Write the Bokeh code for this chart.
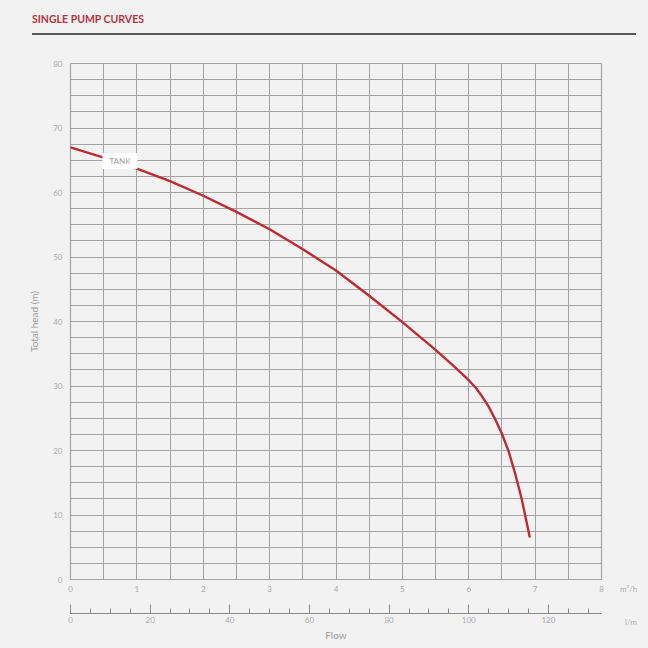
from bokeh.plotting import figure
from bokeh.models import (Range1d, LinearAxis, SingleIntervalTicker, FixedTicker, Label, ColumnDataSource, Div)
from bokeh.layouts import column, row
from bokeh.embed import file_html
from bokeh.resources import INLINE

# ---- data ----
flow_m3h = [0, 0.5, 1, 1.5, 2, 2.5, 3, 3.5, 4, 4.5, 5, 5.5, 5.75, 6.0, 6.1, 6.2, 6.3, 6.4, 6.5, 6.6, 6.7, 6.8, 6.92]
head_m = [67, 65.4, 63.7, 61.75, 59.5, 57, 54.3, 51.2, 47.9, 44, 39.9, 35.6, 33.3, 30.9, 29.8, 28.4, 26.8, 24.8, 22.6, 19.9, 16.4, 12.4, 6.5]
x_ticks_m3h = [0, 1, 2, 3, 4, 5, 6, 7, 8]
y_ticks = [0, 10, 20, 30, 40, 50, 60, 70, 80]
curve_name = "TANK"
title_text = "SINGLE PUMP CURVES"
x_unit = "m³/h"
x2_unit = "l/m"
x_label = "Flow"
y_label = "Total head (m)"

BG = "#f2f2f3"
GRID = "#a3a3a3"
TXT = "#ababab"
FONT = "Lato"

# ---- header ----
header = Div(width=644, height=44, margin=0, text=(
    '<div style="position:relative;width:644px;height:44px;">'
    '<div style="position:absolute;left:32px;top:13px;color:#b7323d;font-family:Lato;'
    'font-weight:bold;font-size:10.5px;line-height:12px;">%s</div>'
    '<div style="position:absolute;left:32px;top:33px;width:604px;height:2px;background:#5a5a5a;"></div>'
    '</div>') % title_text)

# ---- main chart ----
p = figure(width=620, height=600, x_range=Range1d(0, 8), y_range=Range1d(0, 80),
           toolbar_location=None, output_backend="svg",
           min_border_left=70, min_border_right=19, min_border_top=19, min_border_bottom=65)
p.background_fill_color = BG
p.border_fill_color = BG
p.outline_line_color = GRID
p.outline_line_width = 1.2

p.xaxis.ticker = FixedTicker(ticks=x_ticks_m3h)
p.yaxis.ticker = FixedTicker(ticks=y_ticks)
for ax in (p.xaxis[0], p.yaxis[0]):
    ax.axis_line_color = None
    ax.major_tick_line_color = None
    ax.minor_tick_line_color = None
    ax.major_tick_out = 0
    ax.major_tick_in = 0
    ax.minor_tick_out = 0
    ax.major_label_text_color = TXT
    ax.major_label_text_font = FONT
    ax.major_label_text_font_size = "8px"
p.yaxis.major_label_standoff = 8
p.yaxis.axis_label = y_label
p.yaxis.axis_label_text_font = FONT
p.yaxis.axis_label_text_font_style = "normal"
p.yaxis.axis_label_text_font_size = "10px"
p.yaxis.axis_label_text_color = "#9c9c9c"
p.yaxis.axis_label_standoff = 10

p.xaxis.major_label_standoff = 6
p.xaxis.axis_label = "\u00a0"
p.xaxis.axis_label_text_font_size = "12px"
p.xaxis.axis_label_standoff = 2

p.xgrid.ticker = SingleIntervalTicker(interval=0.5)
p.ygrid.ticker = SingleIntervalTicker(interval=2.5)
p.xgrid.grid_line_color = GRID
p.ygrid.grid_line_color = GRID
p.xgrid.grid_line_width = 1
p.ygrid.grid_line_width = 1

# secondary flow axis in l/min
p.extra_x_ranges = {"lm": Range1d(0, 8 * 1000 / 60)}
ax2 = LinearAxis(x_range_name="lm", ticker=SingleIntervalTicker(interval=20, num_minor_ticks=4))
ax2.axis_line_color = "#8a8a8a"
ax2.major_tick_line_color = "#8a8a8a"
ax2.minor_tick_line_color = "#8a8a8a"
ax2.major_tick_in = 9
ax2.major_tick_out = 0
ax2.minor_tick_in = 5
ax2.minor_tick_out = 0
ax2.major_label_text_color = TXT
ax2.major_label_text_font = FONT
ax2.major_label_text_font_size = "8px"
ax2.major_label_standoff = 3
ax2.axis_label = x_label
ax2.axis_label_text_font = FONT
ax2.axis_label_text_font_style = "normal"
ax2.axis_label_text_font_size = "10px"
ax2.axis_label_text_color = "#9c9c9c"
ax2.axis_label_standoff = 3
p.add_layout(ax2, "below")

src = ColumnDataSource(dict(x=flow_m3h, y=head_m))
p.line("x", "y", source=src, line_color="#bf2a33", line_width=2.4)

p.add_layout(Label(x=0.745, y=64.9, text=curve_name, text_align="center", text_baseline="middle",
                   text_font=FONT, text_font_size="8px", text_color="#a0a0a0",
                   background_fill_color="white", padding=(7, 3)))

# unit labels to the right of the two flow axes
units = Div(width=24, height=600, margin=0, text=(
    '<div style="position:relative;width:24px;height:600px;font-family:Lato;font-size:8px;'
    'line-height:10px;color:%s;">'
    '<div style="position:absolute;left:0px;top:540px;white-space:nowrap;">%s</div>'
    '<div style="position:absolute;left:5px;top:573px;white-space:nowrap;">%s</div>'
    '</div>') % (TXT, x_unit, x2_unit))

layout = column(header, row(p, units, spacing=0), spacing=0)
html = file_html(layout, INLINE)
html = html.replace("</head>",
                    "<style>html, body { background-color: %s !important; }</style>\n</head>" % BG, 1)
open("out.html", "w").write(html)
